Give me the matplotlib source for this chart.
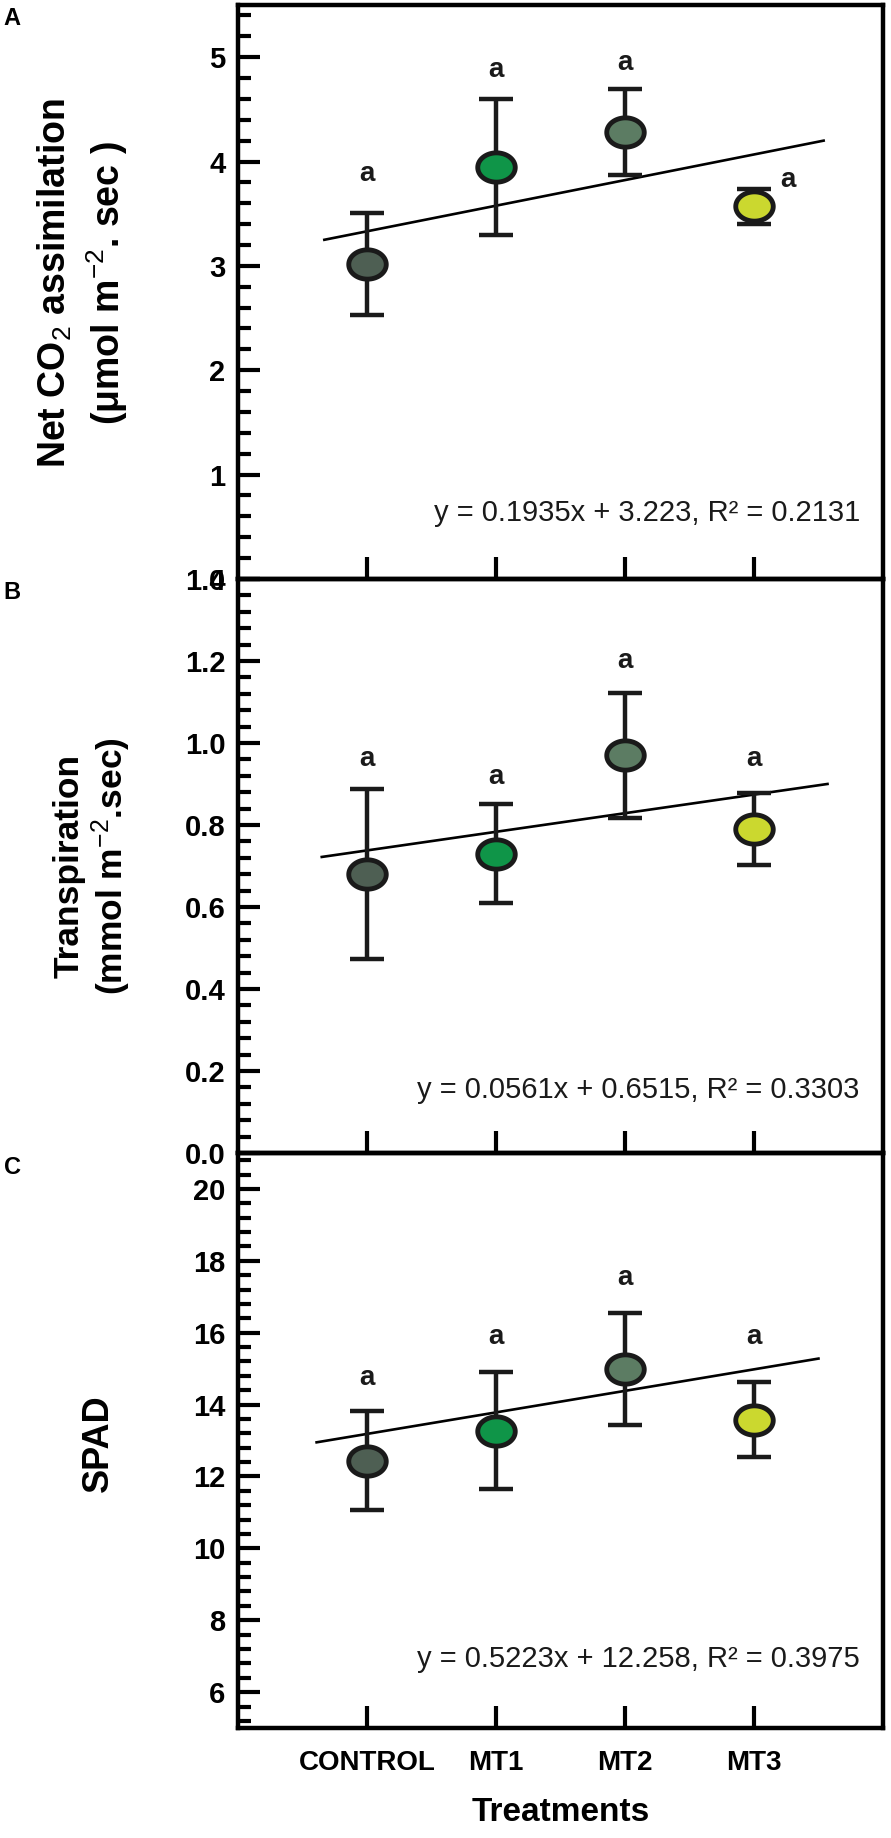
import numpy as np
import matplotlib
matplotlib.use("Agg")
import matplotlib.pyplot as plt
from matplotlib.path import Path
from matplotlib.ticker import MultipleLocator, FormatStrFormatter

plt.rcParams['font.family'] = ['Liberation Sans', 'DejaVu Sans']
plt.rcParams['mathtext.fontset'] = 'custom'
plt.rcParams['mathtext.rm'] = 'Liberation Sans'
plt.rcParams['mathtext.it'] = 'Liberation Sans:italic'
plt.rcParams['mathtext.bf'] = 'Liberation Sans:bold'

# data
treatments = ['CONTROL', 'MT1', 'MT2', 'MT3']
x_pos = [1, 2, 3, 4]
colors = ['#4e5f53', '#0f9548', '#5c7c63', '#cbd82f']

net_co2 = [3.02, 3.95, 4.28, 3.57]
net_co2_err = [0.49, 0.65, 0.41, 0.17]
transp = [0.68, 0.73, 0.97, 0.79]
transp_err = [0.207, 0.12, 0.153, 0.087]
spad = [12.44, 13.27, 15.0, 13.58]
spad_err = [1.37, 1.63, 1.56, 1.04]

# significance letters and their heights
letters = ['a', 'a', 'a', 'a']
letter_x_a = [1, 2, 3, 4.26]
letter_y_a = [3.88, 4.88, 4.94, 3.82]
letter_y_b = [0.96, 0.918, 1.20, 0.96]
letter_y_c = [14.74, 15.87, 17.52, 15.87]

# drawn trend lines (end points)
fit_x_a = [0.67, 4.54]
fit_y_a = [3.25, 4.20]
fit_x_b = [0.65, 4.57]
fit_y_b = [0.722, 0.90]
fit_x_c = [0.61, 4.50]
fit_y_c = [12.95, 15.28]

eq_a = 'y = 0.1935x + 3.223, R² = 0.2131'
eq_b = 'y = 0.0561x + 0.6515, R² = 0.3303'
eq_c = 'y = 0.5223x + 12.258, R² = 0.3975'

# elliptical marker (the original figure is slightly stretched)
t = np.linspace(0, 2 * np.pi, 80)
ell = Path(np.column_stack([1.28 * np.cos(t), np.sin(t)]), closed=True)

fig = plt.figure(figsize=(8.91, 18.38), dpi=100)
ax_a = fig.add_axes([0.267, 0.685, 0.724, 0.3123])
ax_b = fig.add_axes([0.267, 0.3727, 0.724, 0.3123])
ax_c = fig.add_axes([0.267, 0.0598, 0.724, 0.3129])


def panel(ax, vals, errs, lx, ly, fx, fy, eq, eq_y, ylim, major, minor, fmt):
    for i in range(len(vals)):
        ax.errorbar(x_pos[i], vals[i], yerr=errs[i], fmt='none', ecolor='#1a1a1a',
                    elinewidth=3.2, capsize=12, capthick=3.2, zorder=2)
        ax.plot(x_pos[i], vals[i], marker=ell, markersize=27, markerfacecolor=colors[i],
                markeredgecolor='#1a1a1a', markeredgewidth=3.5, linestyle='none', zorder=3)
        ax.text(lx[i], ly[i], letters[i], ha='center', va='center', fontsize=20,
                fontweight='bold', color='#1a1a1a')
    ax.plot(fx, fy, color='black', linewidth=1.9, zorder=1)
    ax.text(4.82, eq_y, eq, ha='right', va='center', fontsize=21, color='#1a1a1a')
    ax.set_xlim(0, 5)
    ax.set_ylim(*ylim)
    ax.set_xticks(x_pos)
    ax.yaxis.set_major_locator(MultipleLocator(major))
    ax.yaxis.set_minor_locator(MultipleLocator(minor))
    ax.yaxis.set_major_formatter(FormatStrFormatter(fmt))
    for s in ax.spines.values():
        s.set_linewidth(3.2)
    ax.tick_params(axis='y', which='major', direction='in', length=16, width=3,
                   labelsize=21, pad=9)
    ax.tick_params(axis='y', which='minor', direction='in', length=9, width=3)
    ax.tick_params(axis='x', which='major', direction='in', length=16, width=3,
                   labelsize=20, pad=16)
    for lab in ax.get_yticklabels():
        lab.set_fontweight('bold')
    ax.set_facecolor('none')


panel(ax_a, net_co2, net_co2_err, letter_x_a, letter_y_a, fit_x_a, fit_y_a,
      eq_a, 0.63, (0, 5.5), 1, 0.2, '%d')
panel(ax_b, transp, transp_err, x_pos, letter_y_b, fit_x_b, fit_y_b,
      eq_b, 0.154, (0, 1.4), 0.2, 0.04, '%.1f')
panel(ax_c, spad, spad_err, x_pos, letter_y_c, fit_x_c, fit_y_c,
      eq_c, 6.92, (5, 21), 2, 0.4, '%d')

# keep only the labelled range on panel C
ax_c.set_yticks([6, 8, 10, 12, 14, 16, 18, 20])
for ax in (ax_a, ax_b):
    ax.set_xticklabels([])
ax_c.set_xticklabels(treatments, fontweight='bold')
ax_c.set_xlabel('Treatments', fontsize=24, fontweight='bold', labelpad=15)

fig.text(0.093, 0.846, 'Net CO$_2$ assimilation\n(μmol m$^{-2}$. sec )', rotation=90,
         ha='center', va='center', multialignment='center', fontsize=27,
         fontweight='bold', linespacing=1.3)
fig.text(0.104, 0.529, 'Transpiration\n(mmol m$^{-2}$.sec)', rotation=90,
         ha='center', va='center', multialignment='center', fontsize=25.5,
         fontweight='bold', linespacing=1.1)
fig.text(0.11, 0.215, 'SPAD', rotation=90, ha='center', va='center',
         fontsize=26, fontweight='bold')

fig.text(0.004, 0.996, 'A', ha='left', va='top', fontsize=17, fontweight='bold')
fig.text(0.004, 0.684, 'B', ha='left', va='top', fontsize=17, fontweight='bold')
fig.text(0.004, 0.371, 'C', ha='left', va='top', fontsize=17, fontweight='bold')

fig.savefig('out.png', dpi=100)
